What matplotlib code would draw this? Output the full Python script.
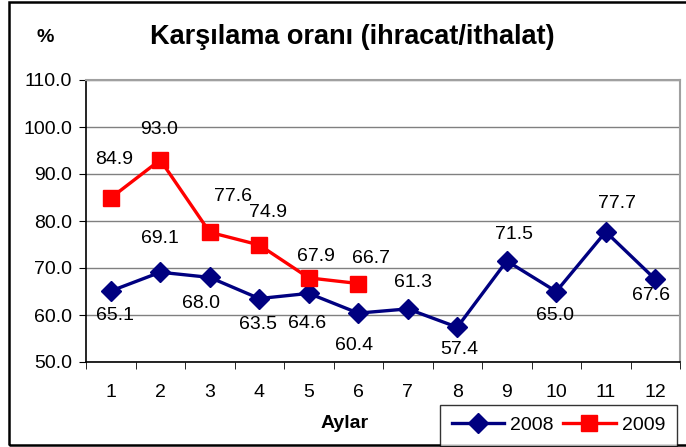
import matplotlib.pyplot as plt
from matplotlib.patches import Rectangle

plt.rcParams['font.family'] = ['Liberation Sans', 'DejaVu Sans']

months = list(range(1, 13))
y2008 = [65.1, 69.1, 68.0, 63.5, 64.6, 60.4, 61.3, 57.4, 71.5, 65.0, 77.7, 67.6]
y2009 = [84.9, 93.0, 77.6, 74.9, 67.9, 66.7]
yticks = [50, 60, 70, 80, 90, 100, 110]

# label offsets in pixels (dx, dy)
off2008 = [(4, -24), (0, 34), (-9, -26), (-1, -26), (-2, -30), (-4, -32),
           (5, 26), (2, -22), (7, 26), (-1, -24), (11, 28), (-4, -16)]
off2009 = [(3, 38), (-1, 30), (23, 36), (9, 32), (7, 21), (13, 25)]

fig = plt.figure(figsize=(6.86, 4.47), dpi=100)
ax = fig.add_axes([86/686, 85/447, 594/686, 282/447])

ax.plot(months, y2008, color='#000080', lw=2.4, marker='D', ms=10, label='2008')
ax.plot(months[:len(y2009)], y2009, color='#FF0000', lw=2.4, marker='s', ms=11, label='2009')

for x, y, (dx, dy) in zip(months, y2008, off2008):
    ax.annotate('%.1f' % y, (x, y), xytext=(dx, dy), textcoords='offset pixels',
                ha='center', va='center', fontsize=14)
for x, y, (dx, dy) in zip(months, y2009, off2009):
    ax.annotate('%.1f' % y, (x, y), xytext=(dx, dy), textcoords='offset pixels',
                ha='center', va='center', fontsize=14)

ax.set_xlim(0.5, 12.5)
ax.set_ylim(50, 110)
ax.set_yticks(yticks)
ax.set_yticklabels(['%.1f' % v for v in yticks], fontsize=14)
ax.set_xticks(months)
ax.set_xticklabels([str(m) for m in months], fontsize=14)
ax.set_xticks([m + 0.5 for m in range(0, 13)], minor=True)
ax.tick_params(axis='x', which='major', length=0, pad=16)
ax.tick_params(axis='x', which='minor', length=5, direction='out')
ax.tick_params(axis='y', length=5, direction='out', pad=5)
ax.grid(axis='y', color='#808080', lw=1)
ax.set_axisbelow(True)
for s in ['top', 'right']:
    ax.spines[s].set_color('#a0a0a0')
    ax.spines[s].set_linewidth(1.5)
for s in ['left', 'bottom']:
    ax.spines[s].set_color('black')
    ax.spines[s].set_linewidth(1.2)

fig.text(352/686, 1 - 37/447, 'Karşılama oranı (ihracat/ithalat)', ha='center', va='center',
         fontsize=19.5, fontweight='bold')
fig.text(45/686, 1 - 37/447, '%', ha='center', va='center', fontsize=14, fontweight='bold')
fig.text(345/686, 1 - 424/447, 'Aylar', ha='center', va='center', fontsize=14, fontweight='bold')

leg = fig.legend(loc='upper left', bbox_to_anchor=(440/686, 1 - 405/447), ncol=2,
                 fontsize=14, frameon=True, fancybox=False, edgecolor='black',
                 borderaxespad=0, handlelength=2.7, columnspacing=0.5, handletextpad=0.3,
                 borderpad=0.6)
leg.get_frame().set_linewidth(1.0)

fig.patches.append(Rectangle((9/686, 2/447), 1.0, 443/447, transform=fig.transFigure,
                             fill=False, edgecolor='black', lw=1.8))

fig.savefig('out.png', dpi=100)
